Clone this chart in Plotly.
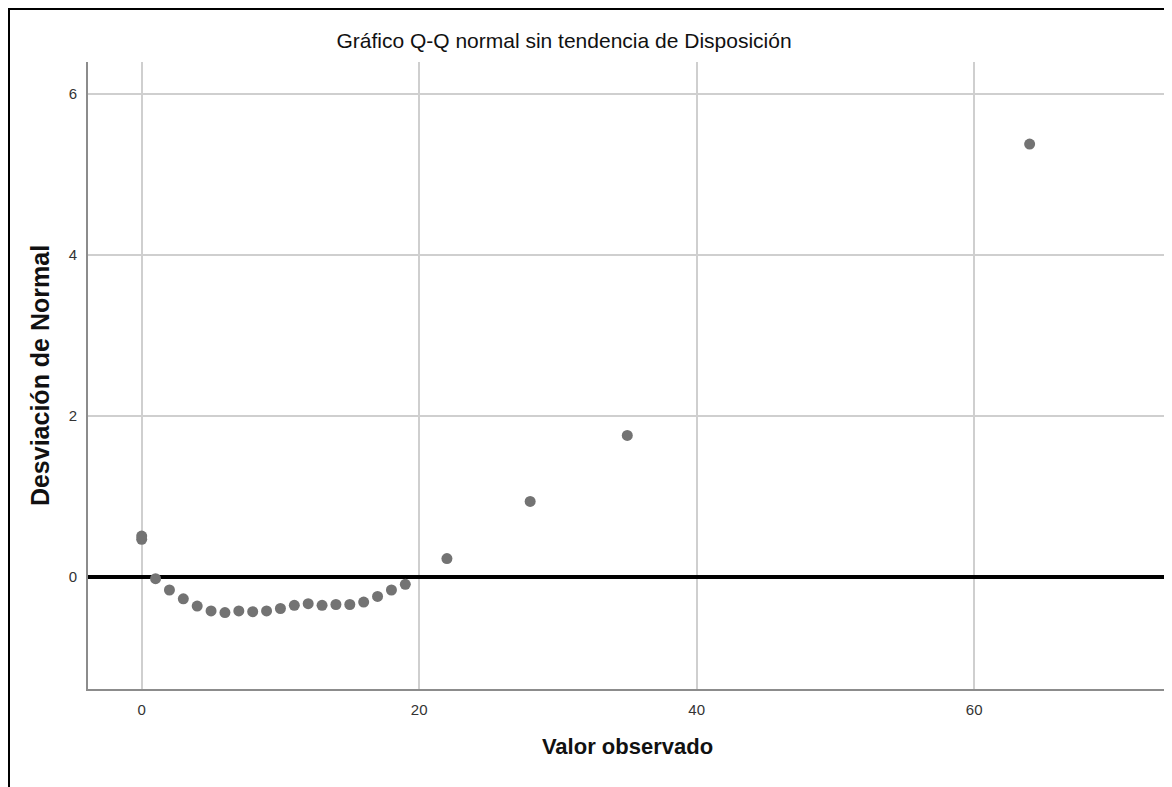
import plotly.graph_objects as go

# Observed values and detrended normal deviations
observed = [0, 0, 1, 2, 3, 4, 5, 6, 7, 8, 9, 10, 11, 12, 13, 14, 15, 16, 17, 18, 19, 22, 28, 35, 64]
deviation = [0.47, 0.51, -0.02, -0.16, -0.27, -0.36, -0.42, -0.44, -0.42, -0.43, -0.42, -0.39,
             -0.35, -0.33, -0.35, -0.34, -0.34, -0.31, -0.24, -0.16, -0.09, 0.23, 0.94, 1.76, 5.38]

x_ticks = [0, 20, 40, 60]
y_ticks = [0, 2, 4, 6]

# page has an 8px body margin, so the figure is a bit smaller than the window
W, H = 1164, 779
L, T = 80, 54
pw, ph = 1079, 627
R, B = W - L - pw, H - T - ph

fig = go.Figure()
fig.add_trace(go.Scatter(
    x=observed, y=deviation, mode="markers",
    marker=dict(color="#737373", size=11, line=dict(width=0)),
    showlegend=False, hoverinfo="x+y"))

font = "Liberation Sans, Arial, sans-serif"

fig.update_layout(
    width=W, height=H,
    margin=dict(l=L, r=R, t=T, b=B),
    paper_bgcolor="white", plot_bgcolor="white",
    font=dict(family=font, color="#222222"),
    title=dict(text="Gráfico Q-Q normal sin tendencia de Disposición",
               x=556 / W, xref="container", xanchor="center",
               y=1 - 33 / H, yref="container", yanchor="middle",
               font=dict(size=21, family=font, color="#111111")),
    xaxis=dict(range=[-3.87, 73.9], tickvals=x_ticks, ticktext=[str(v) for v in x_ticks],
               showgrid=True, gridcolor="#cfcfcf", gridwidth=1.5,
               zeroline=False, showline=True, linecolor="#8c8c8c", linewidth=2,
               ticks="", ticklabelstandoff=6, tickfont=dict(size=15, color="#333333"),
               title=dict(text="<b>Valor observado</b>", font=dict(size=22, color="#111111"),
                          standoff=22)),
    yaxis=dict(range=[-1.39, 6.40], tickvals=y_ticks, ticktext=[str(v) for v in y_ticks],
               showgrid=True, gridcolor="#cfcfcf", gridwidth=1.5,
               zeroline=True, zerolinecolor="#000000", zerolinewidth=4,
               showline=True, linecolor="#8c8c8c", linewidth=2,
               ticks="", ticklabelstandoff=6, tickfont=dict(size=15, color="#333333"),
               title=dict(text="<b>Desviación de Normal</b>", font=dict(size=25, color="#111111"),
                          standoff=12)),
)

# Outer frame (left and top edges visible in the reference)
x_left = (0 - L) / pw
y_top = 1 + T / ph
x_right = (W - L) / pw
y_bottom = -(H - (T + ph)) / ph
fig.add_shape(type="line", xref="paper", yref="paper", x0=x_left, x1=x_right, y0=y_top, y1=y_top,
              line=dict(color="black", width=4))
fig.add_shape(type="line", xref="paper", yref="paper", x0=x_left, x1=x_left, y0=y_bottom, y1=y_top,
              line=dict(color="black", width=4))

fig.write_html("out.html")
